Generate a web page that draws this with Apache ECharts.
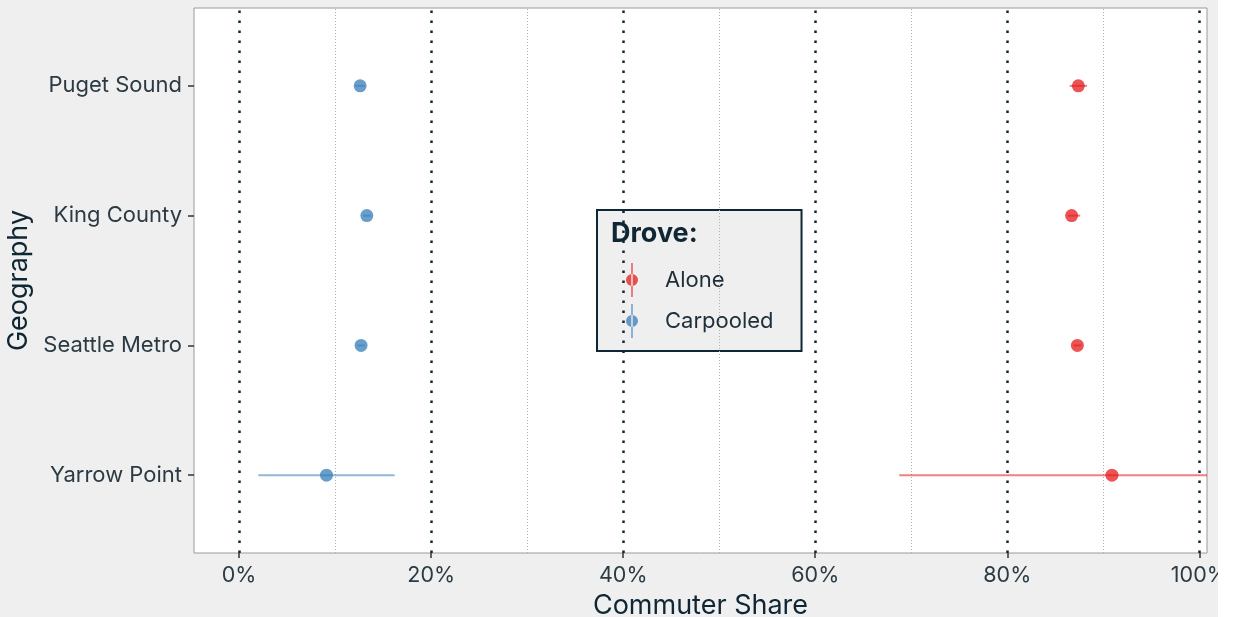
<!DOCTYPE html>
<html>
<head>
<meta charset="utf-8">
<script src="https://cdn.jsdelivr.net/npm/echarts@6/dist/echarts.min.js"></script>
<style>
html,body{margin:0;padding:0;background:#ffffff;}
#chart{width:1218px;height:617px;background:#efefef;}
</style>
</head>
<body>
<div id="chart"></div>
<script>
// ---- data ----
var geographies = ['Yarrow Point', 'Seattle Metro', 'King County', 'Puget Sound'];
var aloneShare = [90.9, 87.3, 86.7, 87.4];
var aloneLow = [68.75, 86.9, 86.3, 86.5];
var aloneHigh = [113.0, 87.7, 87.6, 88.3];
var carpoolShare = [9.1, 12.7, 13.3, 12.6];
var carpoolLow = [2.0, 12.3, 12.9, 12.1];
var carpoolHigh = [16.2, 13.1, 13.7, 13.1];
var xTicks = [0, 20, 40, 60, 80, 100];
var xMinorTicks = [10, 30, 50, 70, 90];
var seriesNames = ['Alone', 'Carpooled'];

var FONT = 'Inter, "Noto Sans", sans-serif';
var TXT = '#2c3a43';
var DARK = '#0f2634';
var RED = '#E41A1C';
var BLUE = '#377EB8';

var yPos = geographies.map(function (g, i) { return i + 1; });

function pts(vals) { return vals.map(function (v, i) { return [v, yPos[i]]; }); }
function bars(lo, hi) { return lo.map(function (v, i) { return [v, hi[i], yPos[i]]; }); }

function errRender(color) {
  return function (params, api) {
    var a = api.coord([api.value(0), api.value(2)]);
    var b = api.coord([api.value(1), api.value(2)]);
    return {
      type: 'line',
      shape: { x1: a[0], y1: a[1], x2: b[0], y2: b[1] },
      style: { stroke: color, lineWidth: 2, opacity: 0.55 }
    };
  };
}

var majorLines = xTicks.map(function (v) { return { xAxis: v }; });
var minorLines = xMinorTicks.map(function (v) { return { xAxis: v }; });

var iconPath = 'path://M5.3,0 L6.7,0 L6.7,34 L5.3,34 Z M0,17 A6,6 0 1,0 12,17 A6,6 0 1,0 0,17 Z';

var chart = echarts.init(document.getElementById('chart'), null, { renderer: 'canvas' });
chart.setOption({
  animation: false,
  backgroundColor: '#efefef',
  textStyle: { fontFamily: FONT },
  grid: {
    left: 194, right: 11, top: 8, bottom: 64,
    outerBoundsMode: 'none',
    containLabel: false,
    show: true, backgroundColor: '#ffffff', borderColor: '#9a9a9a', borderWidth: 1
  },
  xAxis: {
    type: 'value',
    min: -4.7, max: 100.8,
    name: 'Commuter Share',
    nameLocation: 'middle',
    nameGap: 36,
    nameTextStyle: { fontSize: 27, color: DARK, fontFamily: FONT },
    axisLine: { show: false, onZero: false },
    splitLine: { show: false },
    axisTick: { show: true, customValues: xTicks, length: 5, lineStyle: { color: '#333', width: 1.5 } },
    axisLabel: {
      customValues: xTicks,
      formatter: function (v) { return v + '%'; },
      fontSize: 21.5, color: TXT, margin: 12, fontFamily: FONT
    }
  },
  yAxis: {
    type: 'value',
    min: 0.4, max: 4.6,
    name: 'Geography',
    nameLocation: 'middle',
    nameGap: 159,
    nameRotate: 90,
    nameTextStyle: { fontSize: 27, color: DARK, fontFamily: FONT },
    axisLine: { show: false, onZero: false },
    splitLine: { show: false },
    axisTick: { show: true, customValues: yPos, length: 6, lineStyle: { color: '#333', width: 1.5 } },
    axisLabel: {
      customValues: yPos,
      formatter: function (v) { return geographies[Math.round(v) - 1] || ''; },
      fontSize: 22, color: TXT, margin: 12, fontFamily: FONT
    }
  },
  legend: {
    show: true,
    data: seriesNames,
    orient: 'vertical',
    left: 597, top: 210,
    padding: [53, 28, 13, 29],
    itemWidth: 12, itemHeight: 34, itemGap: 7,
    backgroundColor: '#efefef',
    borderColor: DARK, borderWidth: 2, borderRadius: 0,
    icon: iconPath,
    textStyle: { fontSize: 22, color: '#1f2f3a', fontFamily: FONT, padding: [0, 0, 0, 22] }
  },
  graphic: [{
    type: 'text',
    left: 611, top: 220, z: 100,
    style: { text: 'Drove:', font: 'bold 27px ' + FONT, fill: DARK }
  }],
  series: [
    {
      name: 'Alone', type: 'scatter', data: pts(aloneShare),
      symbolSize: 13, z: 5,
      itemStyle: { color: RED, opacity: 0.75 },
      markLine: {
        silent: true, symbol: 'none', label: { show: false },
        lineStyle: { color: '#b0b0b0', type: [1, 2], width: 1 },
        data: minorLines
      }
    },
    {
      name: 'Carpooled', type: 'scatter', data: pts(carpoolShare),
      symbolSize: 13, z: 5,
      itemStyle: { color: BLUE, opacity: 0.75 },
      markLine: {
        silent: true, symbol: 'none', label: { show: false },
        lineStyle: { color: '#0f2634', type: [2.5, 7.5], width: 2.5, cap: 'butt' },
        data: majorLines
      }
    },
    {
      name: 'Alone', type: 'custom', clip: true, z: 6,
      renderItem: errRender(RED), data: bars(aloneLow, aloneHigh),
      encode: { x: [0, 1], y: 2 }
    },
    {
      name: 'Carpooled', type: 'custom', clip: true, z: 6,
      renderItem: errRender(BLUE), data: bars(carpoolLow, carpoolHigh),
      encode: { x: [0, 1], y: 2 }
    }
  ]
});
</script>
</body>
</html>
